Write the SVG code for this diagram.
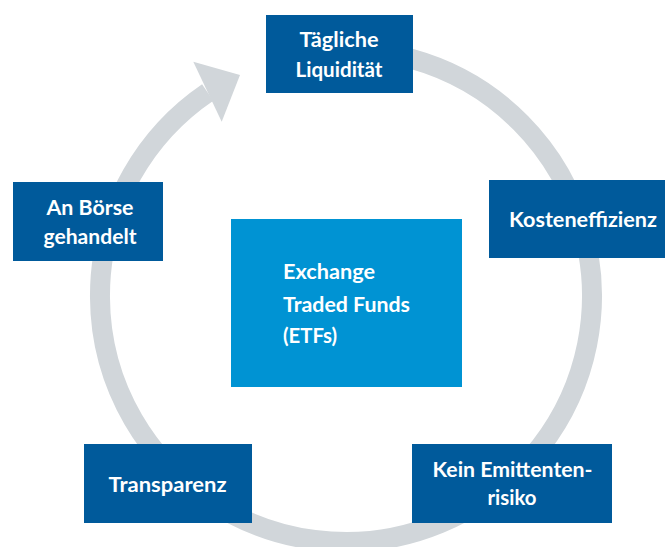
<svg xmlns="http://www.w3.org/2000/svg" width="665" height="547" viewBox="0 0 665 547">
<style>
.box{fill:#005a9b}
.center{fill:#0093d3}
.t{font-family:Lato,"Open Sans","Liberation Sans",sans-serif;font-weight:bold;font-size:21px;fill:#ffffff;text-anchor:middle}
.tl{text-anchor:start}
.ring{fill:none;stroke:#d1d6da;stroke-width:20}
</style>
<rect width="665" height="547" fill="#ffffff"/>
<g id="connectors">
<path class="ring" d="M300,54.3 A246,246 0 1 1 207.7,92.5"/>
<polygon points="193.3,61.7 240,75 221.7,121.7" fill="#d1d6da"/>
</g>
<g id="node-liquiditaet">
<rect class="box" x="266" y="15" width="147" height="78"/>
<text class="t" x="339" y="47" textLength="79" lengthAdjust="spacingAndGlyphs">Tägliche</text>
<text class="t" x="339" y="77" textLength="87" lengthAdjust="spacingAndGlyphs">Liquidität</text>
</g>
<g id="node-kosten">
<rect class="box" x="489" y="180" width="180" height="78"/>
<text class="t" x="583" y="227" textLength="148" lengthAdjust="spacingAndGlyphs">Kosteneffizienz</text>
</g>
<g id="node-emittent">
<rect class="box" x="412" y="444" width="200" height="79"/>
<text class="t" x="512.5" y="477" textLength="160" lengthAdjust="spacingAndGlyphs">Kein Emittenten-</text>
<text class="t" x="512" y="505" textLength="49" lengthAdjust="spacingAndGlyphs">risiko</text>
</g>
<g id="node-transparenz">
<rect class="box" x="84" y="444" width="168" height="79"/>
<text class="t" x="167.5" y="492" textLength="118" lengthAdjust="spacingAndGlyphs">Transparenz</text>
</g>
<g id="node-boerse">
<rect class="box" x="13" y="182" width="150" height="79"/>
<text class="t" x="90" y="215" textLength="87" lengthAdjust="spacingAndGlyphs">An Börse</text>
<text class="t" x="90" y="244" textLength="93" lengthAdjust="spacingAndGlyphs">gehandelt</text>
</g>
<g id="node-etf">
<rect class="center" x="231" y="219" width="231" height="168"/>
<text class="t tl" x="283" y="279" textLength="92" lengthAdjust="spacingAndGlyphs">Exchange</text>
<text class="t tl" x="283" y="311.5" textLength="127" lengthAdjust="spacingAndGlyphs">Traded Funds</text>
<text class="t tl" x="283" y="343" textLength="54" lengthAdjust="spacingAndGlyphs">(ETFs)</text>
</g>
</svg>
